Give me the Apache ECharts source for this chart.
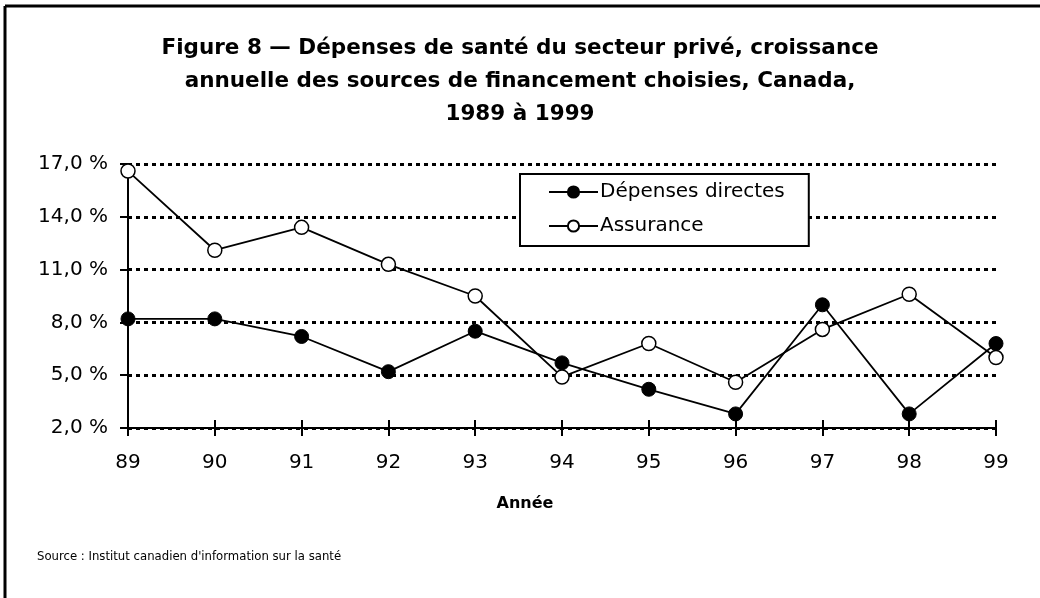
<!DOCTYPE html>
<html>
<head>
<meta charset="utf-8">
<script src="https://cdn.jsdelivr.net/npm/echarts@6/dist/echarts.min.js"></script>
<style>
  html, body { margin: 0; padding: 0; background: #fff; }
  #chart { width: 1040px; height: 598px; }
</style>
</head>
<body>
<div id="chart"></div>
<script>
// data
const years = ['89', '90', '91', '92', '93', '94', '95', '96', '97', '98', '99'];
const depensesDirectes = [8.2, 8.2, 7.2, 5.2, 7.5, 5.7, 4.2, 2.8, 9.0, 2.8, 6.8];
const assurance = [16.6, 12.1, 13.4, 11.3, 9.5, 4.9, 6.8, 4.6, 7.6, 9.6, 6.0];
const yTicks = { min: 2, max: 17, interval: 3 };

const axisFont = 'DejaVu Sans';

const chart = echarts.init(document.getElementById('chart'), null, { renderer: 'canvas' });

chart.setOption({
  backgroundColor: '#fff',
  animation: false,
  title: {
    text: 'Figure 8 — Dépenses de santé du secteur privé, croissance\nannuelle des sources de financement choisies, Canada,\n1989 à 1999',
    left: 'center',
    top: 32,
    padding: 0,
    textStyle: {
      fontFamily: 'DejaVu Sans',
      fontWeight: 'bold',
      fontSize: 21.5,
      lineHeight: 33,
      color: '#000'
    }
  },
  legend: {
    orient: 'vertical',
    left: 520,
    top: 174,
    padding: [8, 24, 10, 28],
    itemGap: 14,
    itemWidth: 49,
    itemHeight: 14,
    backgroundColor: '#fff',
    borderColor: '#000',
    borderWidth: 2,
    textStyle: { fontFamily: axisFont, fontSize: 20, color: '#000', padding: [0, 0, 0, -3] },
    data: ['Dépenses directes', 'Assurance']
  },
  grid: { left: 128, right: 44, top: 164, bottom: 170 },
  xAxis: [
    {
      type: 'category',
      data: years,
      boundaryGap: false,
      axisLine: { lineStyle: { color: '#000', width: 2 } },
      axisTick: { length: 8, lineStyle: { color: '#000', width: 2 } },
      axisLabel: { fontFamily: axisFont, fontSize: 20, color: '#000', margin: 25 },
      splitLine: { show: false }
    },
    {
      type: 'category',
      data: years,
      boundaryGap: false,
      position: 'bottom',
      axisLine: { show: false },
      axisTick: { inside: true, length: 8, lineStyle: { color: '#000', width: 2 } },
      axisLabel: { show: false },
      splitLine: { show: false }
    }
  ],
  yAxis: {
    type: 'value',
    min: yTicks.min,
    max: yTicks.max,
    interval: yTicks.interval,
    axisLine: { show: true, lineStyle: { color: '#000', width: 2 } },
    axisTick: { show: true, length: 8, lineStyle: { color: '#000', width: 2 } },
    axisLabel: {
      fontFamily: axisFont,
      fontSize: 20,
      color: '#000',
      margin: 20,
      formatter: v => v.toFixed(1).replace('.', ',') + ' %'
    },
    splitLine: {
      show: true,
      lineStyle: { color: '#000', width: 3, type: [4, 4] }
    }
  },
  series: [
    {
      name: 'Dépenses directes',
      type: 'line',
      data: depensesDirectes,
      symbol: 'circle',
      symbolSize: 14,
      z: 3,
      lineStyle: { color: '#000', width: 1.8 },
      itemStyle: { color: '#000', borderColor: '#000', borderWidth: 1 }
    },
    {
      name: 'Assurance',
      type: 'line',
      data: assurance,
      symbol: 'circle',
      symbolSize: 14,
      z: 4,
      lineStyle: { color: '#000', width: 1.8 },
      itemStyle: { color: '#fff', borderColor: '#000', borderWidth: 1.5 }
    }
  ],
  graphic: [
    // frame: left and top edges
    { type: 'line', shape: { x1: 5, y1: 6, x2: 5, y2: 598 }, style: { stroke: '#000', lineWidth: 3 } },
    { type: 'line', shape: { x1: 5, y1: 6, x2: 1040, y2: 6 }, style: { stroke: '#000', lineWidth: 3 } },
    {
      type: 'text',
      x: 525,
      y: 504,
      style: {
        text: 'Année',
        fontFamily: axisFont,
        fontWeight: 'bold',
        fontSize: 16,
        fill: '#000',
        align: 'center',
        verticalAlign: 'middle'
      }
    },
    {
      type: 'text',
      x: 37,
      y: 557,
      style: {
        text: "Source : Institut canadien d'information sur la santé",
        fontFamily: axisFont,
        fontSize: 11.7,
        fill: '#000',
        verticalAlign: 'middle'
      }
    }
  ]
});
</script>
</body>
</html>
